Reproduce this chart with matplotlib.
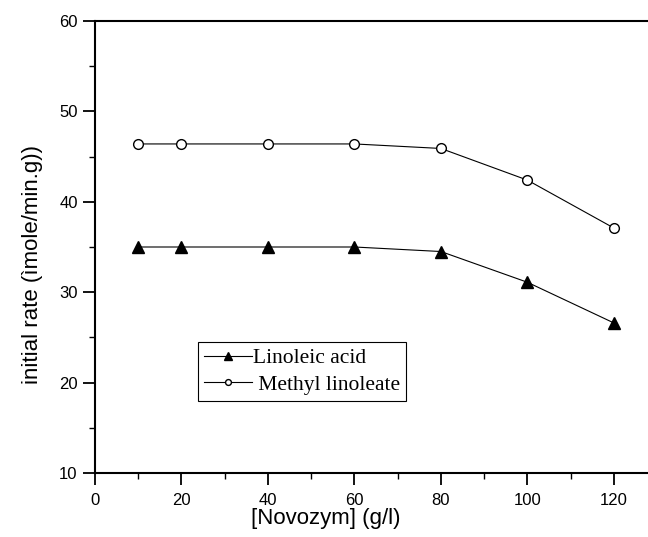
import matplotlib
matplotlib.use("Agg")
import matplotlib.pyplot as plt
from matplotlib.ticker import MultipleLocator

novozym = [10, 20, 40, 60, 80, 100, 120]
linoleic_acid = [35.0, 35.0, 35.0, 35.0, 34.5, 31.1, 26.6]
methyl_linoleate = [46.4, 46.4, 46.4, 46.4, 45.9, 42.4, 37.1]

plt.rcParams['font.family'] = ['Liberation Sans', 'DejaVu Sans']

fig = plt.figure(figsize=(6.48, 5.37), dpi=100)
ax = fig.add_axes([95/648, 1-473/537, 1-95/648, (473-21)/537])

ax.plot(novozym, linoleic_acid, color='black', lw=0.8, marker='^', ms=9,
        mfc='black', mec='black', label='Linoleic acid')
ax.plot(novozym, methyl_linoleate, color='black', lw=0.8, marker='o', ms=7,
        mfc='white', mec='black', mew=1.0, label=' Methyl linoleate')

ax.set_xlim(0, 127.9)
ax.set_ylim(10, 60)
ax.xaxis.set_major_locator(MultipleLocator(20))
ax.xaxis.set_minor_locator(MultipleLocator(10))
ax.yaxis.set_major_locator(MultipleLocator(10))
ax.yaxis.set_minor_locator(MultipleLocator(5))
ax.spines['right'].set_visible(False)
for s in ['left', 'bottom', 'top']:
    ax.spines[s].set_linewidth(1.5)
ax.tick_params(which='major', direction='out', length=8.5, width=1.3, labelsize=12,
               top=False, right=False, pad=4)
ax.tick_params(axis='x', which='major', pad=6)
ax.tick_params(which='minor', direction='out', length=4.5, width=1.0, top=False, right=False)

ax.set_xlabel('[Novozym] (g/l)', fontsize=16)
ax.set_ylabel('initial rate (ìmole/min.g))', fontsize=16)
ax.xaxis.set_label_coords(0.418, -0.078)
ax.yaxis.set_label_coords(-0.094, 0.462)

leg = ax.legend(loc='lower left', bbox_to_anchor=((198-95)/553, (473-401)/452),
                borderaxespad=0, fancybox=False, framealpha=1, edgecolor='black',
                prop={'family': 'Liberation Serif', 'size': 15.5},
                handlelength=2.2, handletextpad=0.05, markerscale=0.6,
                borderpad=0.3, labelspacing=0.28)
leg.get_frame().set_linewidth(0.8)

fig.savefig('out.png', dpi=100)
